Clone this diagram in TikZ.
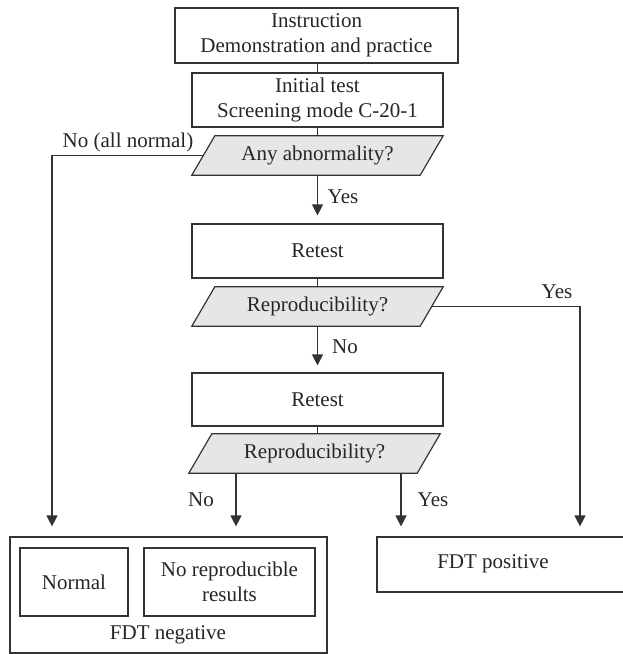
\documentclass[tikz,border=0pt]{standalone}
\usepackage{fontspec}
\setmainfont{Liberation Serif}
\usetikzlibrary{arrows.meta,backgrounds}
\definecolor{ln}{HTML}{333333}
\definecolor{pf}{HTML}{E6E6E6}
\begin{document}
\begin{tikzpicture}[x=1pt,y=-1pt,
  font=\fontsize{21}{25.5}\selectfont,
  every node/.style={text=black!85},
  stepbox/.style={draw=ln, line width=1.2pt, fill=white, inner sep=0pt, align=center},
  decision/.style={inner sep=0pt, minimum width=228pt, minimum height=39pt, align=center},
  plain/.style={draw=ln, line width=1.2pt},
  arr/.style={draw=ln, line width=1.2pt, -{Triangle[width=11pt,length=11pt]}},
  lab/.style={inner sep=0pt}]
\useasboundingbox (0,0) rectangle (623,654);

\node[stepbox, minimum width=283pt, minimum height=55pt] (b1) at (316.5,35.5) {Instruction\\Demonstration and practice};
\node[stepbox, minimum width=251pt, minimum height=54pt] (b2) at (317.5,100) {Initial test\\Screening mode C-20-1};
\node[decision] (p1) at (317.5,155.5) {Any abnormality?};
\node[stepbox, minimum width=251pt, minimum height=54pt] (r1) at (317.5,251) {Retest};
\node[decision] (p2) at (317.5,306.5) {Reproducibility?};
\node[stepbox, minimum width=251pt, minimum height=53pt] (r2) at (317.5,399.5) {Retest};
\node[decision] (p3) at (314.5,453.5) {Reproducibility?};

\node[stepbox, minimum width=317pt, minimum height=116pt] (neg) at (168.5,595) {};
\node[stepbox, minimum width=108pt, minimum height=68pt] (nrm) at (74,582) {Normal};
\node[stepbox, minimum width=171pt, minimum height=68pt] (nrr) at (229.5,582) {No reproducible\\results};
\node[lab] (negl) at (168,635) {FDT negative};
\node[stepbox, minimum width=251pt, minimum height=55pt] (pos) at (502.5,564.5) {};
\node[lab] (posl) at (493,564) {FDT positive};

\node[lab] (l1) at (128,142) {No (all normal)};
\node[lab] (l2) at (343,197) {Yes};
\node[lab] (l3) at (557,292) {Yes};
\node[lab] (l4) at (345,347) {No};
\node[lab] (l5) at (201,500) {No};
\node[lab] (l6) at (433,500) {Yes};

\coordinate (xl) at (52,0);
\coordinate (xr) at (580,0);
\coordinate (xn) at (236,0);
\coordinate (xy) at (401,0);

\draw[plain] (b2.north) -- (b2.north |- b1.south);
\draw[plain] (b2.south) -- (p1.north);
\draw[arr, shorten >=8pt] (p1.south) -- (r1.north);
\draw[plain] (r1.south) -- (p2.north);
\draw[arr, shorten >=7pt] (p2.south) -- (r2.north);
\draw[plain] (r2.south) -- (r2.south |- p3.north);
\draw[arr, shorten >=10pt] (p1.west) -| (neg.north -| xl);
\draw[arr, shorten >=10pt] (p2.east) -| (pos.north -| xr);
\draw[arr, shorten >=10pt] (p3.south -| xn) -- (neg.north -| xn);
\draw[arr, shorten >=10pt] (p3.south -| xy) -- (pos.north -| xy);

\begin{scope}[on background layer]
\foreach \n in {p1,p2,p3}
  \filldraw[fill=pf, draw=ln, line width=1.2pt]
    ([xshift=-11.5pt]\n.south west) -- ([xshift=-11.5pt]\n.south east)
    -- ([xshift=11.5pt]\n.north east) -- ([xshift=11.5pt]\n.north west) -- cycle;
\end{scope}
\end{tikzpicture}
\end{document}
